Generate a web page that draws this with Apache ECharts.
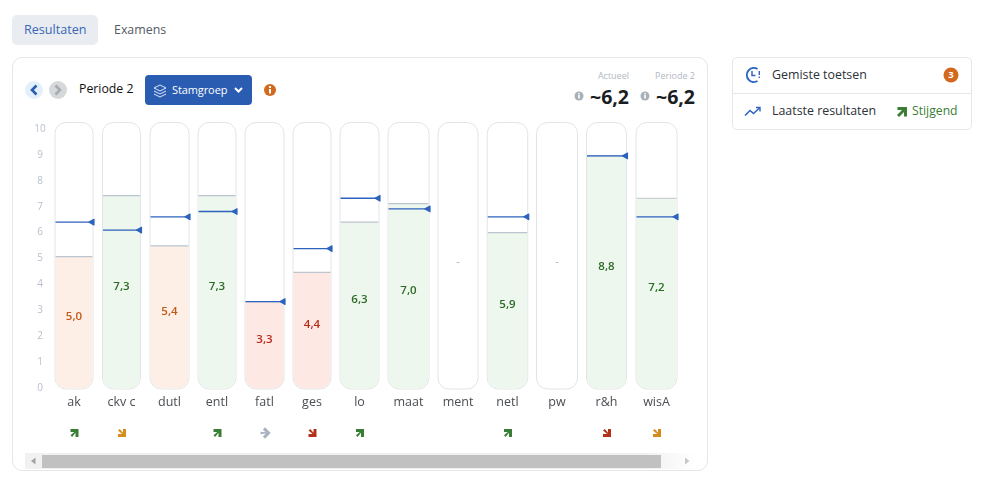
<!DOCTYPE html>
<html>

<head>
    <meta charset="utf-8">
    <title>Resultaten</title>
    <script src="https://cdn.jsdelivr.net/npm/echarts@6/dist/echarts.min.js"></script>
    <style>
        html, body { margin: 0; padding: 0; background: #fff; }
        body { width: 987px; height: 481px; position: relative; overflow: hidden; font-family: "Open Sans", sans-serif; }
        .abs { position: absolute; white-space: nowrap; }
        .card { position: absolute; box-sizing: border-box; border: 1px solid #e4e6e9; background: #fff; }
        #chart { position: absolute; left: 0; top: 0; width: 987px; height: 481px; }
        svg { position: absolute; overflow: visible; }
    </style>
</head>

<body>
    <div class="abs" style="left:12px;top:15px;width:86px;height:30px;background:#e9edf2;border-radius:5px"></div>
    <div class="abs" style="left:24px;top:21px;font-size:12.6px;line-height:18px;color:#3a66b5">Resultaten</div>
    <div class="abs" style="left:114px;top:21px;font-size:12.4px;line-height:18px;color:#555b66">Examens</div>

    <div class="card" style="left:12px;top:57px;width:696px;height:414px;border-radius:10px"></div>

    <svg style="left:0;top:0" width="987" height="481">
        <circle cx="34" cy="90" r="9" fill="#e3f0fc" />
        <path d="M36.5 85.5 L32 90 L36.5 94.5" fill="none" stroke="#2a5db0" stroke-width="2.6" />
        <circle cx="58" cy="90" r="9" fill="#d6d8da" />
        <path d="M55.5 85.5 L60 90 L55.5 94.5" fill="none" stroke="#a6abb1" stroke-width="2.6" />
        <rect x="145" y="75" width="107" height="30" rx="4" fill="#2a5cb2" />
        <path d="M154 88 L160 85 L166 88 L160 91 Z M154 91 L160 94 L166 91 M154 94 L160 97 L166 94" fill="none" stroke="#dfe8f6" stroke-width="1" />
        <path d="M235 88 L238.5 91.5 L242 88" fill="none" stroke="#fff" stroke-width="2" />
        <circle cx="270" cy="90" r="6" fill="#d2691e" />
        <rect x="269" y="89" width="2" height="4.5" fill="#fff" />
        <rect x="269" y="86" width="2" height="2" fill="#fff" />
        <circle cx="579" cy="96" r="4.5" fill="#a9b0ba" />
        <rect x="578.2" y="95" width="1.6" height="3.5" fill="#fff" />
        <rect x="578.2" y="93" width="1.6" height="1.4" fill="#fff" />
        <circle cx="645" cy="96" r="4.5" fill="#a9b0ba" />
        <rect x="644.2" y="95" width="1.6" height="3.5" fill="#fff" />
        <rect x="644.2" y="93" width="1.6" height="1.4" fill="#fff" />

        <rect x="25" y="453" width="670" height="16" fill="url(#fade)" />
        <defs>
            <linearGradient id="fade" x1="0" x2="1" y1="0" y2="0">
                <stop offset="0" stop-color="#f1f1f1" />
                <stop offset="0.93" stop-color="#f1f1f1" />
                <stop offset="1" stop-color="#ffffff" />
            </linearGradient>
        </defs>
        <rect x="42" y="455" width="619" height="13" fill="#c1c1c1" />
        <path d="M35.5 457.5 L31 461 L35.5 464.5 Z" fill="#a3a3a3" />
        <path d="M685 457.5 L689.5 461 L685 464.5 Z" fill="#c8c8c8" />
    </svg>

    <div class="abs" style="left:79px;top:80px;font-size:12.3px;line-height:17px;color:#111">Periode 2</div>
    <div class="abs" style="left:172px;top:81px;font-size:11px;line-height:17px;font-weight:500;letter-spacing:-0.1px;color:#fff">Stamgroep</div>
    <div class="abs" style="right:358px;top:70px;font-size:9px;line-height:12px;color:#b3b9c2">Actueel</div>
    <div class="abs" style="right:292px;top:70px;font-size:9px;line-height:12px;color:#b3b9c2">Periode 2</div>
    <div class="abs" style="right:358px;top:84px;font-size:19.5px;line-height:26px;font-weight:700;color:#1a1d21">~6,2</div>
    <div class="abs" style="right:292px;top:84px;font-size:19.5px;line-height:26px;font-weight:700;color:#1a1d21">~6,2</div>

    <div class="card" style="left:732px;top:57px;width:240px;height:73px;border-radius:5px"></div>
    <div class="abs" style="left:733px;top:93px;width:238px;height:1px;background:#e4e6e9"></div>
    <svg style="left:0;top:0" width="987" height="481">
        <path d="M757.5 69 A7 7 0 1 0 757.5 81" fill="none" stroke="#2f66c4" stroke-width="2" />
        <path d="M752 71 L752 75.5 L755.5 75.5" fill="none" stroke="#2f66c4" stroke-width="1.5" />
        <rect x="758.6" y="71" width="1.4" height="4" fill="#2f66c4" />
        <rect x="758.6" y="76.5" width="1.4" height="1.4" fill="#2f66c4" />
        <circle cx="951" cy="75" r="7.5" fill="#d2691e" />
        <path d="M745 115.5 L750 110.5 L753.5 113.5 L759.5 108" fill="none" stroke="#2f66c4" stroke-width="1.6" />
        <path d="M756 107.5 L760 107.5 L760 111.5" fill="none" stroke="#2f66c4" stroke-width="1.4" />
        <path d="M897.5 107 L907 107 L907 116.5 L904 116.5 L904 112 L899 117 L897 115 L902 110 L897.5 110 Z" fill="#3a7d34" />
    </svg>
    <div class="abs" style="left:772px;top:66px;font-size:12.4px;line-height:17px;font-weight:500;color:#2d3138">Gemiste toetsen</div>
    <div class="abs" style="left:772px;top:102px;font-size:12.4px;line-height:17px;font-weight:500;color:#2d3138">Laatste resultaten</div>
    <div class="abs" style="left:912px;top:102px;font-size:12.2px;line-height:17px;color:#3a7d34">Stijgend</div>
    <div class="abs" style="left:943.5px;top:68px;width:15px;text-align:center;font-size:9.5px;line-height:14px;font-weight:700;color:#fff">3</div>

    <div id="chart"></div>

    <script>
        // vak, midden (px), breedte, cijfer, groepsgemiddelde, trend
        var rows = [
            { name: 'ak', x: 74, w: 38, score: 5.0, avg: 6.3, trend: 'up' },
            { name: 'ckv c', x: 121.5, w: 38, score: 7.3, avg: 6.0, trend: 'downWarn' },
            { name: 'dutl', x: 169.5, w: 39, score: 5.4, avg: 6.5, trend: null },
            { name: 'entl', x: 217, w: 38, score: 7.3, avg: 6.7, trend: 'up' },
            { name: 'fatl', x: 264.5, w: 39, score: 3.3, avg: 3.3, trend: 'flat' },
            { name: 'ges', x: 312, w: 38, score: 4.4, avg: 5.3, trend: 'down' },
            { name: 'lo', x: 359.5, w: 39, score: 6.3, avg: 7.2, trend: 'up' },
            { name: 'maat', x: 408.5, w: 41, score: 7.0, avg: 6.8, trend: null },
            { name: 'ment', x: 458, w: 40, score: null, avg: null, trend: null },
            { name: 'netl', x: 507.5, w: 40.5, score: 5.9, avg: 6.5, trend: 'up' },
            { name: 'pw', x: 557, w: 41, score: null, avg: null, trend: null },
            { name: 'r&h', x: 606.5, w: 40, score: 8.8, avg: 8.8, trend: 'down' },
            { name: 'wisA', x: 656.5, w: 41, score: 7.2, avg: 6.5, trend: 'downWarn' }
        ];

        var trendStyle = {
            up: { color: '#3a7d34', rotate: 0 },
            flat: { color: '#a9b4c0', rotate: -Math.PI / 4 },
            down: { color: '#b5301a', rotate: -Math.PI / 2 },
            downWarn: { color: '#d58c1c', rotate: -Math.PI / 2 }
        };

        function scoreColors(v) {
            if (v >= 5.5) return { fill: '#edf7ed', text: '#2b6a26' };
            if (v >= 5) return { fill: '#fdefe6', text: '#c2591a' };
            return { fill: '#fde8e4', text: '#b82a1a' };
        }

        function comma(v) {
            return v.toFixed(1).replace('.', ',');
        }

        var chart = echarts.init(document.getElementById('chart'));

        function renderColumn(params, api) {
            var row = rows[params.dataIndex];
            var cx = api.coord([row.x, 0])[0];
            var y0 = api.coord([row.x, 0])[1];
            var yTop = api.coord([row.x, 10.06])[1];
            var left = cx - row.w / 2;
            var kids = [];

            kids.push({
                type: 'rect',
                shape: { x: left, y: yTop, width: row.w, height: y0 - yTop, r: 11 },
                style: { fill: '#fff', stroke: '#e1e4e8', lineWidth: 1 }
            });

            if (row.score === null) {
                kids.push({
                    type: 'text',
                    style: { x: cx, y: 262, text: '-', fill: '#a9b2bf', font: '11px "Open Sans"', align: 'center', verticalAlign: 'middle' }
                });
            } else {
                var colors = scoreColors(row.score);
                var yScore = api.coord([row.x, row.score])[1];
                kids.push({
                    type: 'rect',
                    shape: { x: left + 0.5, y: yScore, width: row.w - 1, height: y0 - yScore - 0.5, r: [0, 0, 11, 11] },
                    style: { fill: colors.fill }
                });
                kids.push({
                    type: 'line',
                    shape: { x1: left + 0.5, y1: yScore, x2: left + row.w - 0.5, y2: yScore },
                    style: { stroke: '#bcc4cf', lineWidth: 1.2 }
                });
                kids.push({
                    type: 'text',
                    style: {
                        x: cx, y: (yScore + y0) / 2 - 6, text: comma(row.score), fill: colors.text,
                        font: '600 11.5px "Open Sans"', align: 'center', verticalAlign: 'middle'
                    }
                });
                var yAvg = api.coord([row.x, row.avg])[1];
                var right = left + row.w;
                kids.push({
                    type: 'line',
                    shape: { x1: left + 0.5, y1: yAvg, x2: right - 3, y2: yAvg },
                    style: { stroke: '#2d62bd', lineWidth: 1.3 }
                });
                kids.push({
                    type: 'polygon',
                    shape: { points: [[right - 4, yAvg], [right + 1, yAvg - 2.8], [right + 1, yAvg + 2.8]] },
                    style: { fill: '#2d62bd', stroke: '#2d62bd', lineWidth: 1.2, lineJoin: 'round' }
                });
            }

            if (row.trend) {
                var ts = trendStyle[row.trend];
                kids.push({
                    type: 'path',
                    x: cx + 0.5,
                    y: 433,
                    rotation: ts.rotate,
                    shape: {
                        pathData: 'M-4 -4 L4 -4 L4 4 L1 4 L1 -0.2 L-2.4 4 L-4 2.2 L-0.2 -1 L-4 -1 Z',
                        layout: 'center',
                        x: -4, y: -4, width: 8, height: 8
                    },
                    style: { fill: ts.color }
                });
            }

            return { type: 'group', children: kids };
        }

        var option = {
            animation: false,
            grid: [
                { left: 0, width: 710, top: 122.5, height: 266.5 },
                { left: 50, width: 10, top: 129, height: 259 }
            ],
            xAxis: [
                {
                    type: 'value', gridIndex: 0, min: 0, max: 710,
                    axisLine: { show: false }, axisTick: { show: false }, splitLine: { show: false },
                    axisLabel: {
                        customValues: rows.map(function (r) { return r.x; }),
                        formatter: function (v) {
                            var hit = rows.filter(function (r) { return r.x === v; })[0];
                            return hit ? hit.name : '';
                        },
                        color: '#4a4d52', fontFamily: 'Open Sans', fontSize: 12.5, margin: 7,
                        showMinLabel: true, showMaxLabel: true
                    }
                },
                { type: 'value', gridIndex: 1, min: 0, max: 1, show: false }
            ],
            yAxis: [
                { type: 'value', gridIndex: 0, min: 0, max: 10.06, show: false },
                {
                    type: 'value', gridIndex: 1, min: 0, max: 10, interval: 1,
                    axisLine: { show: false }, axisTick: { show: false }, splitLine: { show: false },
                    axisLabel: { color: '#b8bfca', fontFamily: 'Open Sans', fontSize: 10, margin: 10, align: 'center' }
                }
            ],
            series: [{
                type: 'custom',
                xAxisIndex: 0,
                yAxisIndex: 0,
                clip: false,
                renderItem: renderColumn,
                encode: { x: 0, y: 1 },
                data: rows.map(function (r) { return [r.x, r.score === null ? '-' : r.score]; })
            }]
        };

        chart.setOption(option);
    </script>
</body>

</html>
